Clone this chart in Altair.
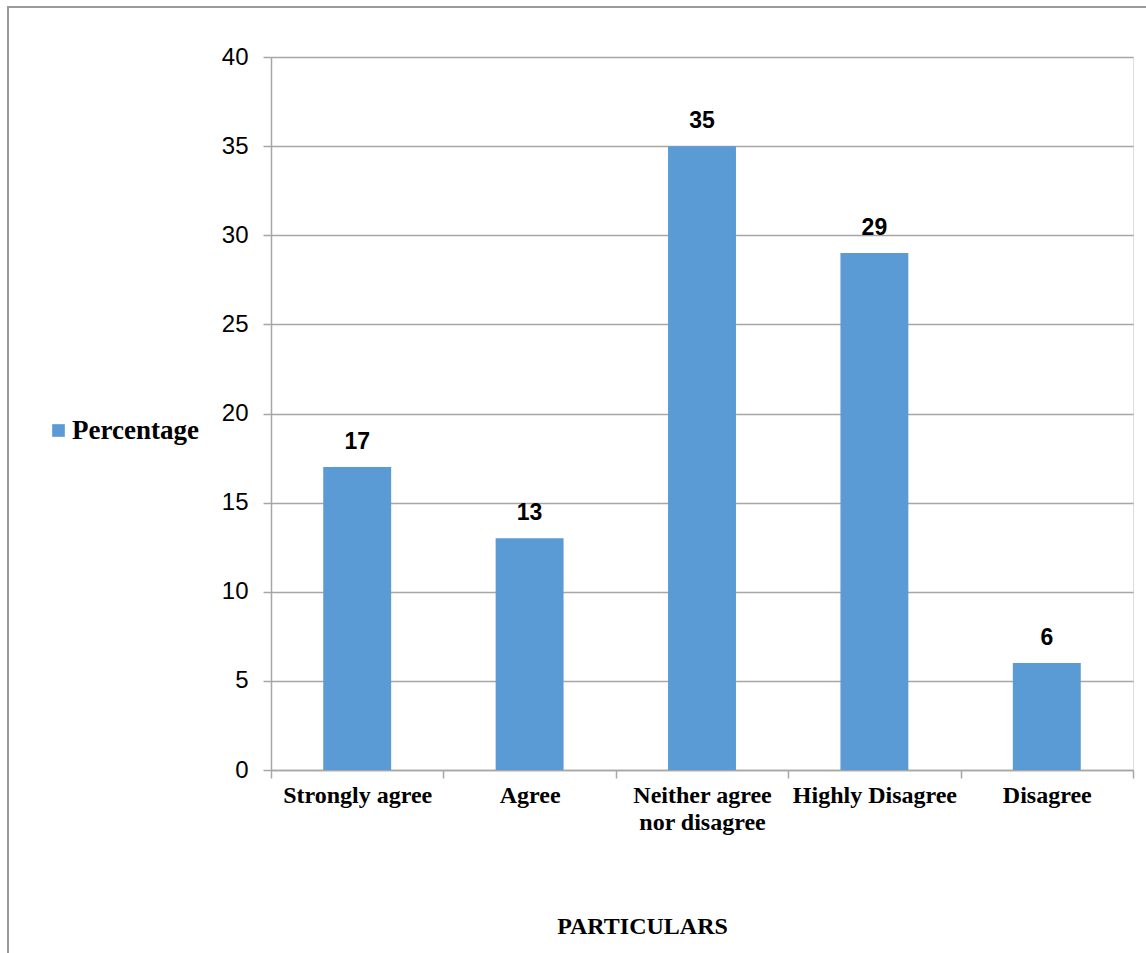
import altair as alt
import pandas as pd

categories = ["Strongly agree", "Agree", "Neither agree nor disagree", "Highly Disagree", "Disagree"]
percentages = [17, 13, 35, 29, 6]
series_name = ["Percentage"] * len(categories)
y_ticks = [0, 5, 10, 15, 20, 25, 30, 35, 40]

df = pd.DataFrame({"cat": categories, "val": percentages, "series": series_name})

SERIF = "Liberation Serif"
SANS = "Liberation Sans"
GRID = "#A6A6A6"

x_enc = alt.X(
    "cat:N",
    sort=categories,
    scale=alt.Scale(paddingInner=0, paddingOuter=0),
    axis=alt.Axis(
        title="PARTICULARS",
        titleFont=SERIF, titleFontSize=24, titleFontWeight="bold", titleColor="black",
        titleX=371, titleY=163, titleAlign="center", titleBaseline="alphabetic",
        labelFont=SERIF, labelFontSize=24, labelFontWeight="bold", labelColor="black",
        labelAngle=0, labelPadding=5, labelLineHeight=27, labelBaseline="top",
        labelExpr="datum.label == 'Neither agree nor disagree' ? ['Neither agree', 'nor disagree'] : datum.label",
        tickBand="extent", tickSize=8, tickColor=GRID, domainColor=GRID, domainWidth=1.5, tickWidth=1.5,
        grid=False,
    ),
)

y_enc = alt.Y(
    "val:Q",
    scale=alt.Scale(domain=[0, 40], nice=False),
    axis=alt.Axis(
        title=None, values=y_ticks,
        labelFont=SANS, labelFontSize=24, labelColor="black", labelPadding=15,
        tickSize=8, tickColor=GRID, domainColor=GRID, domainWidth=1.5, tickWidth=1.5,
        gridColor=GRID, gridWidth=1.5,
    ),
)

bars = alt.Chart(df).mark_bar(width=alt.RelativeBandSize(0.394)).encode(
    x=x_enc,
    y=y_enc,
    color=alt.Color(
        "series:N",
        scale=alt.Scale(range=["#5B9BD5"]),
        legend=alt.Legend(
            title=None, orient="none", legendX=-226, legendY=360,
            symbolType="square", symbolSize=160, symbolStrokeWidth=0,
            labelFont=SERIF, labelFontSize=27, labelFontWeight="bold", labelColor="black",
            labelOffset=0,
        ),
    ),
)

labels = alt.Chart(df).mark_text(
    baseline="alphabetic", dy=-18, font=SANS, fontSize=23, fontWeight="bold", color="black"
).encode(
    x=alt.X("cat:N", sort=categories),
    y="val:Q",
    text="val:Q",
)

frame = alt.Chart(df).mark_rect(
    fillOpacity=0, stroke="#9A9A9A", strokeWidth=2
).encode(
    x=alt.value(-263), x2=alt.value(890), y=alt.value(-50), y2=alt.value(920)
)

chart = alt.layer(frame, bars, labels).properties(
    width=862, height=713,
    autosize=alt.AutoSizeParams(type="none"),
    padding={"left": 271, "top": 57, "right": 13, "bottom": 183},
).configure_view(stroke=None).configure(background="white")

chart.save("out.html", embed_options={"renderer": "svg", "actions": False})
